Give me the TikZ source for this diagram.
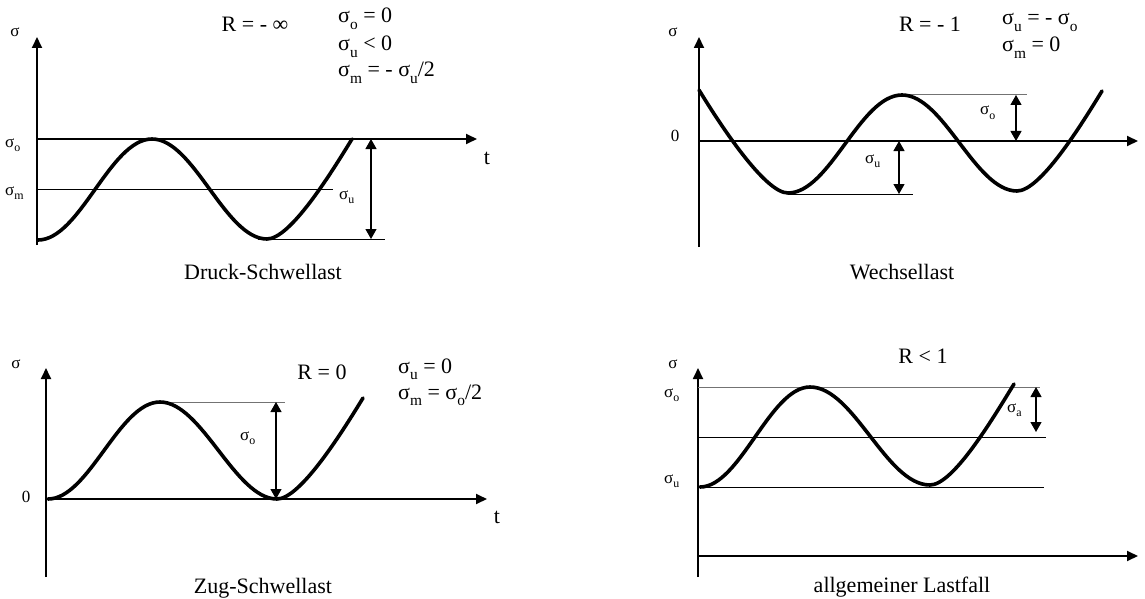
\documentclass[tikz,border=0pt]{standalone}
\usepackage{fontspec}
\setmainfont{Liberation Serif}
\usetikzlibrary{arrows.meta}
\newcommand{\sbs}[1]{\raisebox{-0.28em}{\scalebox{0.7}{#1}}}
\begin{document}
\begin{tikzpicture}[x=1pt,y=-1pt,
  big/.style={font=\fontsize{22}{26}\selectfont,inner sep=0pt},
  small/.style={font=\fontsize{17}{20}\selectfont,inner sep=0pt},
  axis/.style={line width=1.8pt,-{Triangle[length=11pt,width=10pt]}},
  wave/.style={line width=3.6pt,line cap=round},
  refline/.style={line width=1pt},
  greyline/.style={line width=1pt,black!55},
  dimarrow/.style={line width=1.2pt,{Triangle[length=10pt,width=11pt]}-{Triangle[length=10pt,width=11pt]}}]
\useasboundingbox (0,0) rectangle (1145,599);

% ---------- Panel 1: Druck-Schwellast ----------
\coordinate (a1b) at (37,245);
\coordinate (a1t) at (37,37);
\coordinate (x1l) at (37,139);
\coordinate (x1r) at (477,139);
\draw[axis] (a1b) -- (a1t);
\draw[axis] (x1l) -- (x1r);
\coordinate (m1l) at (37,189);
\coordinate (m1r) at (333,189);
\draw[refline] (m1l) -- (m1r);
\coordinate (u1l) at (258,239);
\coordinate (u1r) at (385,239);
\draw[refline] (u1l) -- (u1r);
\coordinate (d1t) at (371,139);
\coordinate (d1b) at (371,239);
\draw[dimarrow] (d1t) -- (d1b);
\draw[wave] (38,240) .. controls +(42,0) and +(-42,0) .. (152,139)
  .. controls +(42,0) and +(-42,0) .. (267,239)
  .. controls (290,239) and (330,175) .. (352,139);
\node[small,anchor=base] (s1) at (15,37) {σ};
\node[small,anchor=base west] (so1) at (5,147) {σ\sbs{o}};
\node[small,anchor=base west] (sm1) at (5,195) {σ\sbs{m}};
\node[small,anchor=base west] (su1) at (339,199) {σ\sbs{u}};
\node[big,anchor=base] (t1) at (487,164) {t};
\node[big,anchor=base] (R1) at (255,32) {R = - ∞};
\node[big,anchor=base west] (f1a) at (338,23) {σ\sbs{o} = 0};
\node[big,anchor=base west] (f1b) at (338,51) {σ\sbs{u} < 0};
\node[big,anchor=base west] (f1c) at (338,77) {σ\sbs{m} = - σ\sbs{u}/2};
\node[big,anchor=base] (T1) at (263,279) {Druck-Schwellast};

% ---------- Panel 2: Wechsellast ----------
\coordinate (a2b) at (699,247);
\coordinate (a2t) at (699,37);
\coordinate (x2l) at (699,141);
\coordinate (x2r) at (1138,141);
\draw[axis] (a2b) -- (a2t);
\draw[axis] (x2l) -- (x2r);
\coordinate (o2l) at (902,95);
\coordinate (o2r) at (1027,95);
\draw[greyline] (o2l) -- (o2r);
\coordinate (u2l) at (788,194);
\coordinate (u2r) at (913,194);
\draw[refline] (u2l) -- (u2r);
\coordinate (d2a) at (1016,95);
\coordinate (d2b) at (1016,141);
\draw[dimarrow] (d2a) -- (d2b);
\coordinate (d2c) at (899,141);
\coordinate (d2d) at (899,194);
\draw[dimarrow] (d2c) -- (d2d);
\draw[wave] (699,90) .. controls (721,126) and (765,193) .. (788,193)
  .. controls +(42,0) and +(-42,0) .. (902,95)
  .. controls +(42,0) and +(-42,0) .. (1017,191)
  .. controls (1040,191) and (1080,127) .. (1102,91);
\node[small,anchor=base] (s2) at (673,37) {σ};
\node[small,anchor=base] (z2) at (675,142) {0};
\node[small,anchor=base west] (so2) at (980,115) {σ\sbs{o}};
\node[small,anchor=base west] (su2) at (865,163) {σ\sbs{u}};
\node[big,anchor=base] (R2) at (930,32) {R = - 1};
\node[big,anchor=base west] (f2a) at (1002,25) {σ\sbs{u} = - σ\sbs{o}};
\node[big,anchor=base west] (f2b) at (1002,52) {σ\sbs{m} = 0};
\node[big,anchor=base] (T2) at (902,279) {Wechsellast};

% ---------- Panel 3: Zug-Schwellast ----------
\coordinate (a3b) at (46,577);
\coordinate (a3t) at (46,368);
\coordinate (x3l) at (46,499);
\coordinate (x3r) at (487,499);
\draw[axis] (a3b) -- (a3t);
\draw[axis] (x3l) -- (x3r);
\coordinate (o3l) at (160,402);
\coordinate (o3r) at (285,402);
\draw[greyline] (o3l) -- (o3r);
\coordinate (d3a) at (276,402);
\coordinate (d3b) at (276,499);
\draw[dimarrow] (d3a) -- (d3b);
\draw[wave] (48,499) .. controls +(41,0) and +(-41,0) .. (160,402)
  .. controls +(42,0) and +(-42,0) .. (277,499)
  .. controls (300,499) and (341,434) .. (363,398);
\node[small,anchor=base] (s3) at (16,368) {σ};
\node[small,anchor=base] (z3) at (26,502) {0};
\node[big,anchor=base] (t3) at (497,523) {t};
\node[small,anchor=base west] (so3) at (240,440) {σ\sbs{o}};
\node[big,anchor=base] (R3) at (322,379) {R = 0};
\node[big,anchor=base west] (f3a) at (398,373) {σ\sbs{u} = 0};
\node[big,anchor=base west] (f3b) at (398,399) {σ\sbs{m} = σ\sbs{o}/2};
\node[big,anchor=base] (T3) at (263,593) {Zug-Schwellast};

% ---------- Panel 4: allgemeiner Lastfall ----------
\coordinate (a4b) at (698,577);
\coordinate (a4t) at (698,368);
\coordinate (x4l) at (698,556);
\coordinate (x4r) at (1138,556);
\draw[axis] (a4b) -- (a4t);
\draw[axis] (x4l) -- (x4r);
\coordinate (o4l) at (698,387);
\coordinate (o4r) at (1040,387);
\draw[greyline] (o4l) -- (o4r);
\coordinate (m4l) at (698,437);
\coordinate (m4r) at (1046,437);
\draw[refline] (m4l) -- (m4r);
\coordinate (u4l) at (698,487);
\coordinate (u4r) at (1044,487);
\draw[refline] (u4l) -- (u4r);
\coordinate (d4a) at (1036,387);
\coordinate (d4b) at (1036,432);
\draw[dimarrow] (d4a) -- (d4b);
\draw[wave] (700,487) .. controls +(40,0) and +(-40,0) .. (810,387)
  .. controls +(44,0) and +(-44,0) .. (930,485)
  .. controls (953,485) and (992,420) .. (1014,384);
\node[small,anchor=base] (s4) at (673,368) {σ};
\node[small,anchor=base west] (so4) at (664,397) {σ\sbs{o}};
\node[small,anchor=base west] (su4) at (664,483) {σ\sbs{u}};
\node[small,anchor=base west] (sa4) at (1007,412) {σ\sbs{a}};
\node[big,anchor=base] (R4) at (923,363) {R < 1};
\node[big,anchor=base] (T4) at (902,592) {allgemeiner Lastfall};
\end{tikzpicture}
\end{document}
